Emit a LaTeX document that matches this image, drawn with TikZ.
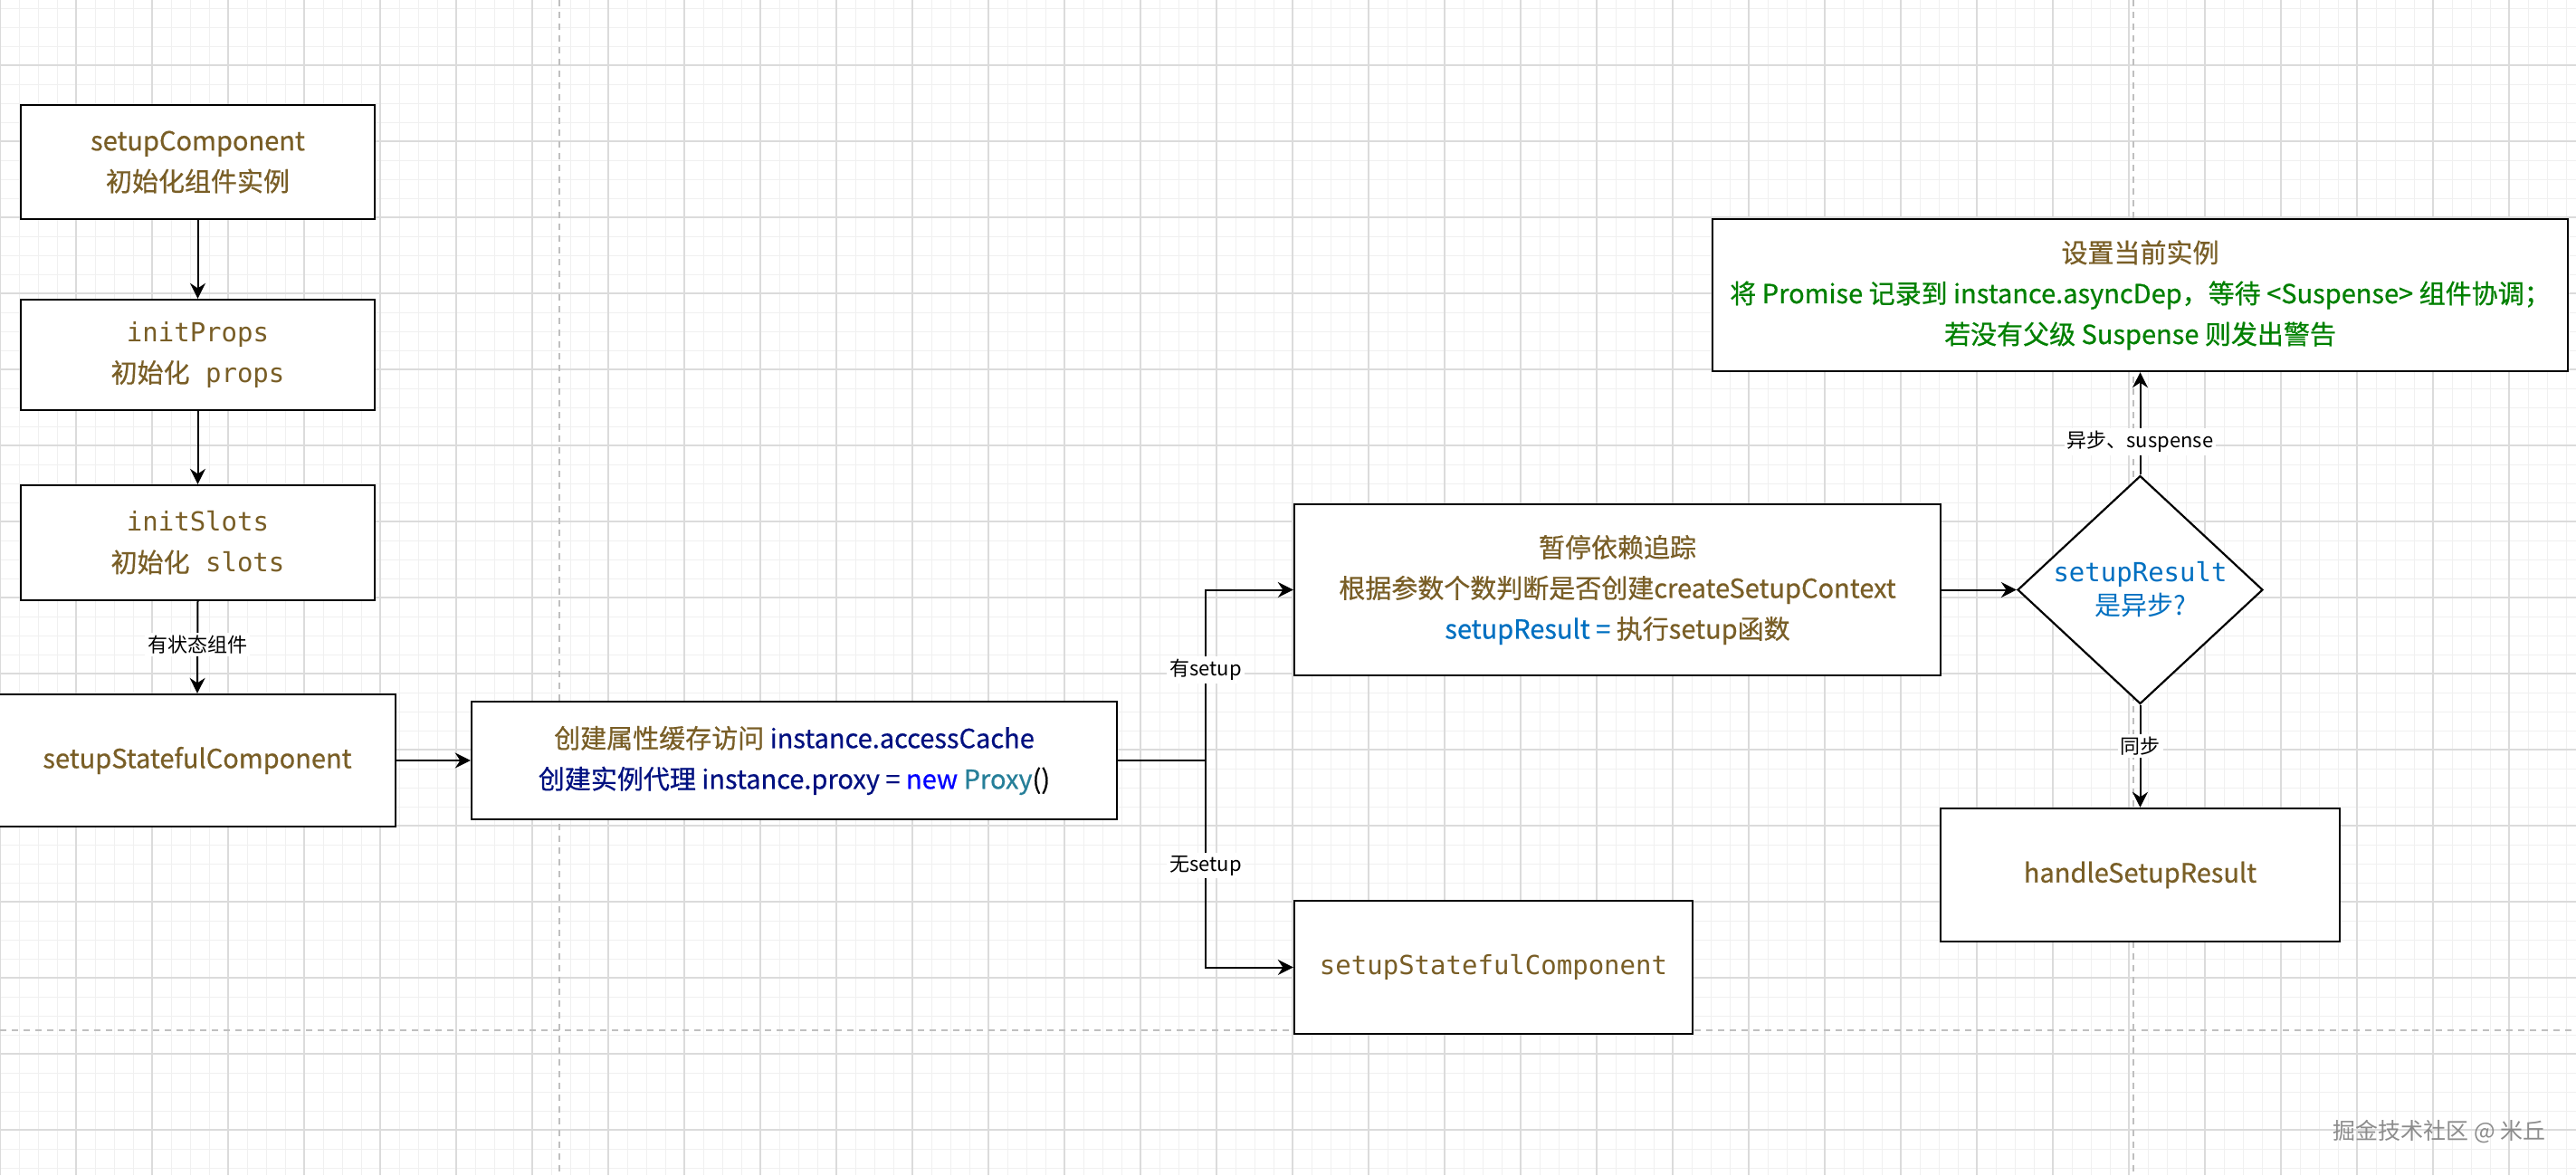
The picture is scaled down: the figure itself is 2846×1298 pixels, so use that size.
\documentclass[tikz,border=0pt]{standalone}
\usepackage{fontspec}
\setmainfont{Noto Sans CJK SC}
\newfontfamily\boxfont{Noto Sans CJK SC}[FakeBold=0.6]
\newfontfamily\mono{DejaVu Sans Mono}
\usetikzlibrary{arrows.meta,shapes.geometric}
\definecolor{fn}{HTML}{795E26}
\definecolor{vr}{HTML}{001080}
\definecolor{kw}{HTML}{0000FF}
\definecolor{ty}{HTML}{267F99}
\definecolor{cst}{HTML}{0070C1}
\definecolor{cm}{HTML}{008000}
\begin{document}
\begin{tikzpicture}[x=0.5pt,y=-0.5pt,
  box/.style={draw=black, line width=1.2pt, fill=white, inner sep=0pt, align=center, text=fn,
    font=\boxfont\fontsize{14.5pt}{22.5pt}\selectfont},
  conn/.style={line width=1pt, -{Stealth[length=8.5pt,width=8.5pt,inset=2.8pt]}},
  lbl/.style={fill=white, inner sep=1.5pt, text=black, font=\fontsize{11pt}{13pt}\selectfont},
  minorline/.style={draw=black!6, line width=0.5pt},
  majorline/.style={draw=black!14, line width=0.6pt},
  pagebreak/.style={draw=black!25, line width=0.6pt, dash pattern=on 3.5pt off 3pt}]
\useasboundingbox (0,0) rectangle (2846,1298);
\fill[white] (0,0) rectangle (2846,1298);
% grid
\foreach \i in {0,...,135} \draw[minorline] ({\i*21},0) -- ({\i*21},1298);
\foreach \j in {0,...,61} \draw[minorline] (0,{9+\j*21}) -- (2846,{9+\j*21});
\foreach \i in {0,...,33} \draw[majorline] ({\i*84},0) -- ({\i*84},1298);
\foreach \j in {0,...,14} \draw[majorline] (0,{72+\j*84}) -- (2846,{72+\j*84});
\draw[pagebreak] (618,0) -- (618,1298);
\draw[pagebreak] (2357,0) -- (2357,1298);
\draw[pagebreak] (0,1138) -- (2846,1138);

% nodes
\node[box, minimum width=195.5pt, minimum height=63pt] (sc) at (218.5,179)
  {setupComponent\\初始化组件实例};
\node[box, minimum width=195.5pt, minimum height=61pt] (ip) at (218.5,392)
  {{\mono initProps}\\初始化{\mono\ props}};
\node[box, minimum width=195.5pt, minimum height=63.5pt] (is) at (218.5,599.5)
  {{\mono initSlots}\\初始化{\mono\ slots}};
\node[box, minimum width=219pt, minimum height=73pt] (ss) at (218,840)
  {setupStatefulComponent};
\node[box, minimum width=356.5pt, minimum height=65pt] (cj) at (877.5,840)
  {创建属性缓存访问 {\color{vr}instance.accessCache}\\
   {\color{vr}创建实例代理 instance.proxy =} {\color{kw}new} {\color{ty}Proxy}{\color{black}()}};
\node[box, minimum width=357pt, minimum height=94.5pt] (zt) at (1787,651.5)
  {暂停依赖追踪\\根据参数个数判断是否创建createSetupContext\\
   {\color{cst}setupResult =} 执行setup函数};
\node[diamond, draw=black, line width=1.1pt, fill=white, minimum width=135.5pt,
  minimum height=126pt, inner sep=0pt] (dm) at (2364.5,651.5) {};
\node[align=center, text=cst, font=\fontsize{14.5pt}{18.5pt}\selectfont] (dmt) at (dm.center)
  {{\mono setupResult}\\是异步?};
\node[box, minimum width=472.5pt, minimum height=84pt] (tp) at (2364.5,326)
  {设置当前实例\\
   {\color{cm}将 Promise 记录到 instance.asyncDep，等待 <Suspense> 组件协调；}\\
   {\color{cm}若没有父级 Suspense 则发出警告}};
\node[box, minimum width=220.5pt, minimum height=73.5pt] (hs) at (2364.5,966.5)
  {handleSetupResult};
\node[box, minimum width=220pt, minimum height=73.5pt] (ss2) at (1650,1068.5)
  {{\mono setupStatefulComponent}};
\node[text=black!45, font=\fontsize{12.5pt}{14pt}\selectfont] (wm) at (2695,1250)
  {掘金技术社区 @ 米丘};

% connectors
\draw[conn] (sc.south) -- (ip.north);
\draw[conn] (ip.south) -- (is.north);
\draw[conn] (is.south) -- node[lbl, pos=0.47] {有状态组件} (ss.north);
\draw[conn] (ss.east) -- (cj.west);
\coordinate (jn) at (1332,840);
\draw[line width=1pt] (cj.east) -- (jn);
\draw[conn] (jn) |- node[lbl, pos=0.265] {有setup} (zt.west);
\draw[conn] (jn) |- node[lbl, pos=0.254] {无setup} (ss2.west);
\draw[conn] (zt.east) -- (dm.west);
\draw[conn] (dm.north) -- node[lbl, pos=0.32] {异步、suspense} (tp.south);
\draw[conn] (dm.south) -- node[lbl, pos=0.4] {同步} (hs.north);
\end{tikzpicture}
\end{document}
